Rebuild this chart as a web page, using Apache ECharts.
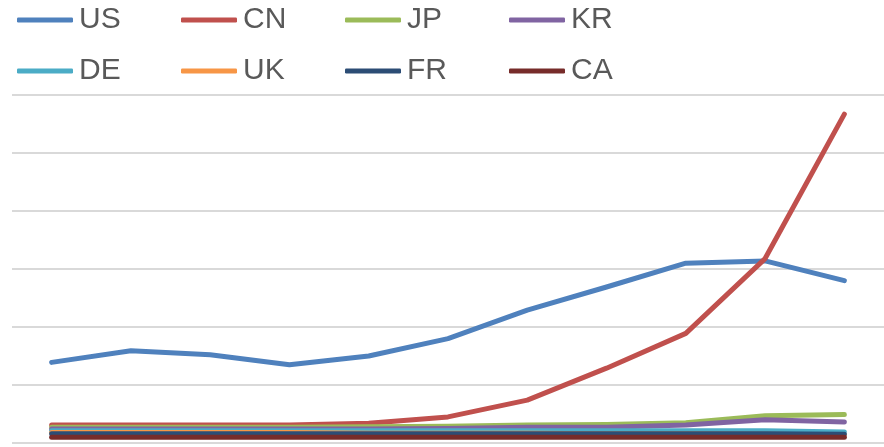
<!DOCTYPE html>
<html>
<head>
<meta charset="utf-8">
<script src="https://cdn.jsdelivr.net/npm/echarts@6/dist/echarts.min.js"></script>
<style>html,body{margin:0;padding:0;background:#fff;}#c{width:884px;height:447px;}</style>
</head>
<body>
<div id="c"></div>
<script>
var categories = ['2008','2009','2010','2011','2012','2013','2014','2015','2016','2017','2018'];
var US = [139, 159, 152, 135, 150, 180, 229, 269, 310, 314, 280];
var CN = [31, 31, 31, 31, 34, 45, 74, 129, 189, 318, 567];
var JP = [27, 27, 27, 27, 28, 29, 31, 32, 35, 47, 49];
var KR = [24, 24, 24, 24, 24, 25, 27, 27, 31, 40, 36];
var DE = [21, 21, 21, 21, 21, 21, 21, 21, 21, 21, 19];
var UK = [18, 18, 18, 18, 17, 17, 17, 16, 16, 15, 14];
var FR = [16, 16, 16, 16, 16, 16, 16, 16, 16, 16, 15];
var CA = [10, 10, 10, 10, 10, 10, 10, 10, 10, 10, 10];
var names = ['US','CN','JP','KR','DE','UK','FR','CA'];
var values = [US, CN, JP, KR, DE, UK, FR, CA];
var colors = ['#4F81BD','#C0504D','#9BBB59','#8064A2','#4BACC6','#F79646','#2C4D75','#772C2A'];

var chart = echarts.init(document.getElementById('c'), null, {renderer:'canvas'});
var legends = [];
var cols = [['US','DE'],['CN','UK'],['JP','FR'],['KR','CA']];
for (var i = 0; i < 4; i++) {
  legends.push({
    orient: 'vertical',
    left: 17 + i*164,
    top: 5,
    padding: 0,
    itemGap: 21,
    itemWidth: 56,
    itemHeight: 5,
    icon: 'roundRect',
    selectedMode: false,
    data: cols[i],
    textStyle: {fontFamily: 'Liberation Sans, Arial', fontSize: 30, lineHeight: 30, color: '#595959', padding: [0,0,0,1]}
  });
}
var series = names.map(function(n, i){
  return {
    name: n, type: 'line', data: values[i], symbol: 'none', smooth: false,
    color: colors[i],
    lineStyle: {width: 5, color: colors[i], cap: 'round', join: 'round'},
    emphasis: {disabled: true},
    animation: false
  };
});
chart.setOption({
  animation: false,
  legend: legends,
  grid: {left: 12, width: 874, top: 95, bottom: 4, containLabel: false},
  xAxis: {type: 'category', data: categories, boundaryGap: true,
    axisLine: {show: false}, axisTick: {show: false}, axisLabel: {show: false}, splitLine: {show: false}},
  yAxis: {type: 'value', min: 0, max: 600, interval: 100,
    axisLine: {show: false}, axisTick: {show: false}, axisLabel: {show: false},
    splitLine: {show: true, lineStyle: {color: '#D9D9D9', width: 2}}},
  series: series
});
</script>
</body>
</html>
